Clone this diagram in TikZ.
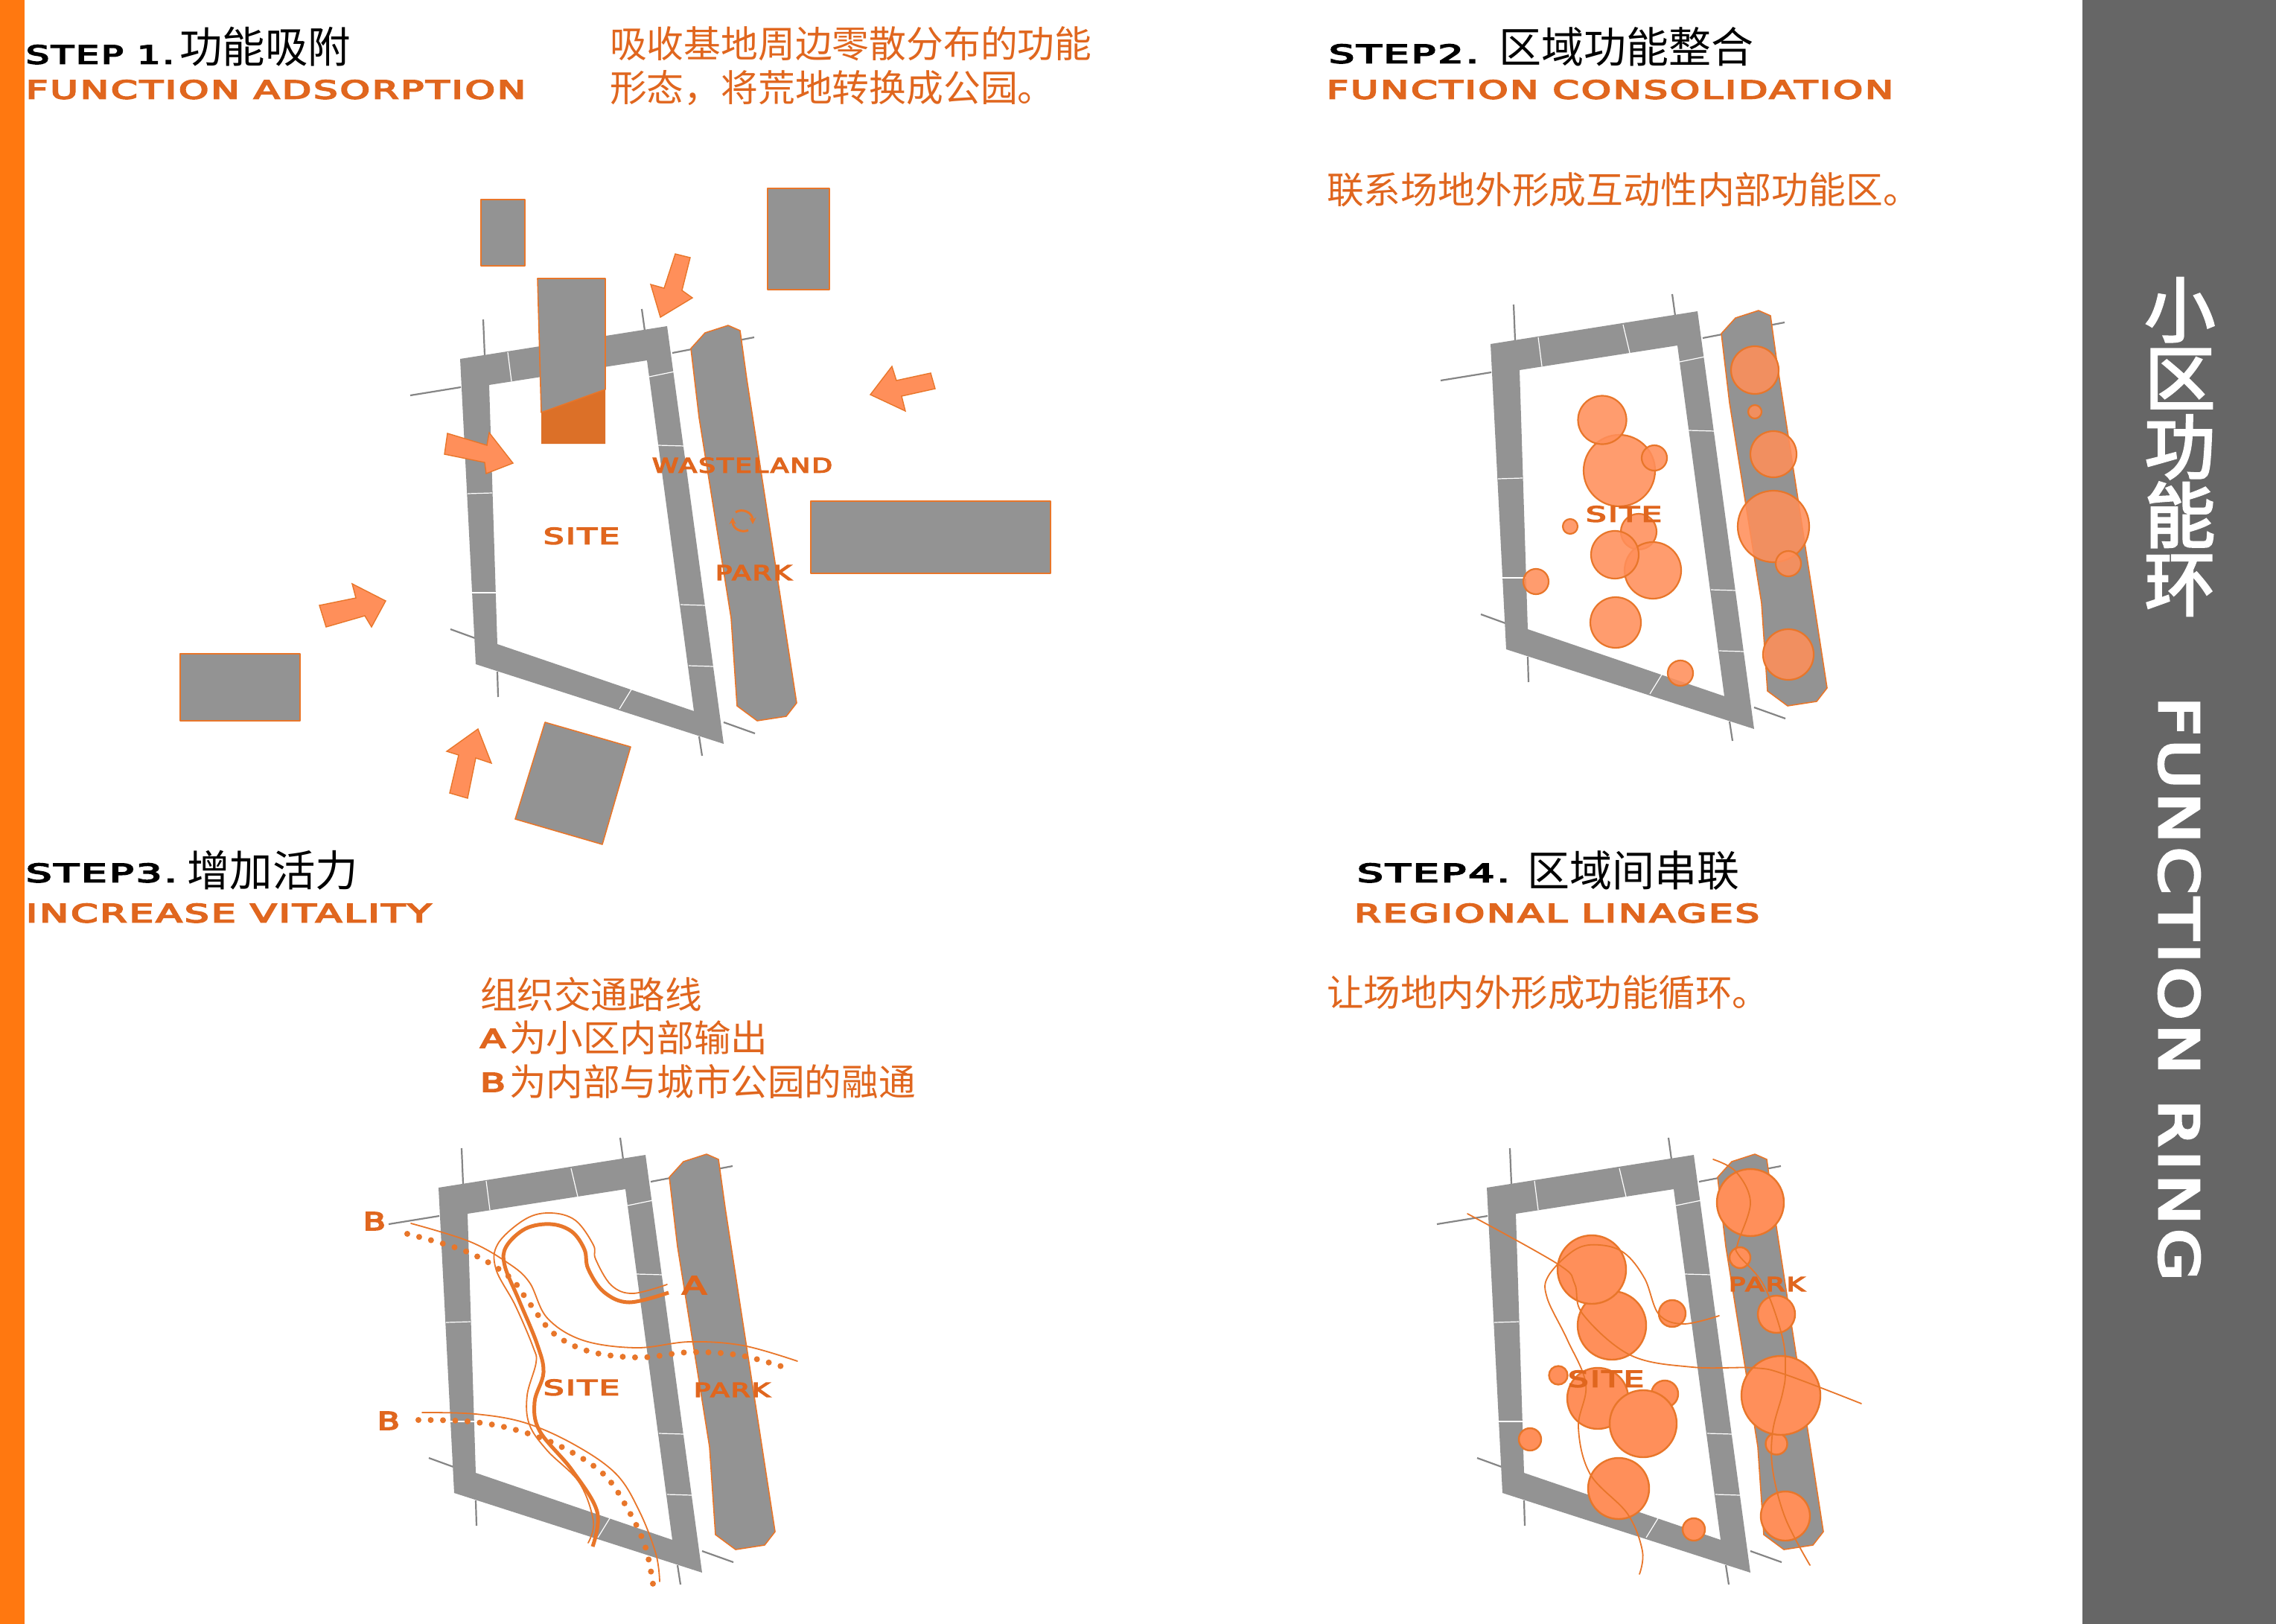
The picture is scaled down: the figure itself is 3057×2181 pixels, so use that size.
\documentclass[tikz,border=0pt]{standalone}
\usepackage{fontspec}
\usepackage{graphicx}
\usetikzlibrary{arrows.meta}
\newfontfamily\cjk{Noto Sans CJK SC}
\newfontfamily\cjkheavy[FakeBold=3]{Noto Sans CJK SC}
\newfontfamily\widefont[LetterSpace=6,FakeBold=5]{DejaVu Sans}
\definecolor{txtor}{HTML}{E0661E}
\definecolor{strokeor}{HTML}{E8762A}
\definecolor{fillor}{HTML}{FF8F5A}
\definecolor{softor}{HTML}{FF8F5A}
\definecolor{blockgray}{HTML}{939393}
\definecolor{axisgray}{HTML}{858585}
\definecolor{panelgray}{HTML}{666666}
\definecolor{barorange}{HTML}{FF7810}
\newcommand{\wt}[3]{\resizebox{#1pt}{#2pt}{\widefont #3}}
\newcommand{\cj}[2]{{\cjk\fontsize{#1}{#1}\selectfont #2}}
\newcommand{\siteplan}{%
  \draw[axisline] (620,1542)--(622,1590);
  \draw[axisline] (833,1528)--(837,1557);
  \draw[axisline] (522,1644)--(590,1633);
  \draw[axisline] (874,1587)--(984,1566);
  \draw[axisline] (576,1958)--(609,1970);
  \draw[axisline] (639,2015)--(640,2049);
  \draw[axisline] (943,2083)--(985,2098);
  \draw[axisline] (910,2102)--(914,2128);
  \fill[blockgray,even odd rule] (589,1595)--(867,1551)--(943,2112)--(610,2005)--cycle
     (628,1630)--(840,1597)--(903,2068)--(639,1978)--cycle;
  \draw[tickline] (653,1586)--(658,1625);
  \draw[tickline] (767,1569)--(776,1607);
  \draw[tickline] (843,1619)--(877,1612);
  \draw[tickline] (855,1711)--(891,1712);
  \draw[tickline] (885,1925)--(919,1926);
  \draw[tickline] (896,2007)--(929,2008);
  \draw[tickline] (819,2039)--(803,2065);
  \draw[tickline] (599,1776)--(632,1775);
  \draw[tickline] (605,1909)--(638,1909);
  \draw[block] (899,1581)--(918,1560)--(949,1550)--(965,1557)--(974,1622)--(1041,2057)--(1027,2075)--(988,2081)--(961,2061)--(953,1943)--(942,1874)--(910,1674)--cycle;
}
\tikzset{
  axisline/.style={draw=axisgray,line width=2.2pt},
  tickline/.style={draw=white,line width=1.2pt},
  block/.style={fill=blockgray,draw=strokeor,line width=1.6pt,line join=round},
  inarrow/.style={fill=fillor,draw=strokeor,line width=1.4pt,line join=miter},
  softdisc/.style={fill=softor,draw=strokeor,line width=2.2pt,fill opacity=.88},
  disc/.style={fill=fillor,draw=strokeor,line width=2.4pt},
  route/.style={draw=strokeor,line width=1.8pt,line cap=round},
  thickroute/.style={draw=strokeor,line width=5pt,line cap=butt},
  dotroute/.style={draw=strokeor,line width=8pt,line cap=round,dash pattern=on 0pt off 16.5pt},
  recycle/.style={draw=strokeor,line width=3pt,-{Stealth[length=9pt,width=9pt]}},
  lab/.style={inner sep=0pt,outer sep=0pt,anchor=south west,text=txtor},
  ttl/.style={inner sep=0pt,outer sep=0pt,anchor=base west},
  body/.style={inner sep=0pt,outer sep=0pt,anchor=base west,text=txtor},
}
\begin{document}
\begin{tikzpicture}[x=1pt,y=-1pt]
\useasboundingbox (0,0) rectangle (3057,2181);
\fill[white] (0,0) rectangle (3057,2181);
\fill[barorange] (0,0) rectangle (33,2181);
\fill[panelgray] (2797,0) rectangle (3057,2181);

% ---------- step 1
\begin{scope}[shift={(29,-1113)}]\siteplan\end{scope}
\draw[block] (646,268) rectangle (705,357);
\draw[block] (1031,253) rectangle (1114,389);
\draw[block] (1089,673) rectangle (1411,770);
\draw[block] (242,878) rectangle (403,968);
\draw[block] (732,970)--(847,1003)--(809,1134)--(692,1100)--cycle;
\fill[strokeor!95!black] (727,554)--(813,523)--(813,596)--(727,596)--cycle;
\draw[block] (722,374)--(813,374)--(813,523)--(727,554)--cycle;
\draw[inarrow] (907,341)--(927,346)--(916,390)--(930,400)--(887,426)--(874,382)--(892,387)--cycle;
\draw[inarrow] (1250,501)--(1256,522)--(1211,532)--(1216,552)--(1169,530)--(1198,492)--(1204,511)--cycle;
\draw[inarrow] (601,582)--(597,610)--(651,621)--(653,636)--(689,622)--(657,581)--(654,598)--cycle;
\draw[inarrow] (429,813)--(438,842)--(490,827)--(499,842)--(518,807)--(473,784)--(478,803)--cycle;
\draw[inarrow] (604,1065)--(628,1072)--(639,1018)--(660,1025)--(642,979)--(600,1009)--(616,1014)--cycle;
\draw[recycle] (988,688) .. controls (997,682) and (1011,688) .. (1011,704);
\draw[recycle] (1005,712) .. controls (997,716) and (984,711) .. (984,695);
\node[lab] (s1site) at (730,731) {\wt{102}{22}{SITE}};
\node[lab] (s1waste) at (876,635) {\wt{242}{20}{WASTELAND}};
\node[lab] (s1park) at (961,779) {\wt{102}{20}{PARK}};
\node[lab,text=black] (s1step) at (35,86) {\wt{199}{25}{STEP 1.}};
\node[ttl] (s1cn) at (241,85) {\cj{57.5}{功能吸附}};
\node[lab] (s1en) at (35,133) {\wt{671}{25}{FUNCTION ADSORPTION}};
\node[body] (s1b1) at (819,78) {\cj{49.8}{吸收基地周边零散分布的功能}};
\node[body] (s1b2) at (819,136) {\cj{49.8}{形态，将荒地转换成公园。}};

% ---------- step 2
\begin{scope}[shift={(1413,-1133)}]\siteplan\end{scope}
\draw[softdisc] (2175,632) circle (48);
\draw[softdisc] (2152,564) circle (32.5);
\draw[softdisc] (2222,615) circle (17);
\draw[softdisc] (2109,707) circle (10);
\draw[softdisc] (2201,714) circle (24);
\draw[softdisc] (2220,766) circle (38);
\draw[softdisc] (2169,745) circle (32);
\draw[softdisc] (2063,781) circle (17);
\draw[softdisc] (2170,836) circle (34);
\draw[softdisc] (2257,904) circle (17);
\draw[softdisc] (2357,497) circle (32);
\draw[softdisc] (2357,553) circle (9);
\draw[softdisc] (2382,610) circle (31);
\draw[softdisc] (2382,707) circle (48);
\draw[softdisc] (2402,757) circle (17);
\draw[softdisc] (2402,879) circle (34);
\node[lab] (s2site) at (2130,701) {\wt{102}{21}{SITE}};
\node[lab,text=black] (s2step) at (1785,85) {\wt{201}{25}{STEP2.}};
\node[ttl] (s2cn) at (2013,85) {\cj{57}{区域功能整合}};
\node[lab] (s2en) at (1782,133) {\wt{761}{25}{FUNCTION CONSOLIDATION}};
\node[body] (s2b1) at (1782,273) {\cj{49.8}{联系场地外形成互动性内部功能区。}};

% ---------- step 3
\begin{scope}[shift={(0,0)}]\siteplan\end{scope}
\draw[route] plot[smooth,tension=.6] coordinates {(552,1643) (630,1667) (682,1696) (711,1722) (735,1770) (783,1800) (855,1810) (926,1802) (998,1807) (1071,1828)};
\draw[dotroute] plot[smooth,tension=.6] coordinates {(547,1657) (627,1681) (683,1714) (711,1750) (744,1791) (792,1815) (859,1823) (926,1816) (993,1820) (1056,1837)};
\draw[route] plot[smooth,tension=.6] coordinates {(567,1897) (639,1899) (706,1911) (773,1941) (828,1980) (859,2030) (881,2087) (886,2124)};
\draw[dotroute] plot[smooth,tension=.6] coordinates {(562,1907) (630,1909) (692,1920) (754,1943) (811,1980) (845,2030) (867,2078) (877,2127)};
\draw[thickroute] plot[smooth,tension=.6] coordinates {(898,1736) (845,1749) (811,1735) (790,1704) (785,1678) (768,1654) (740,1644) (706,1650) (680,1674) (678,1700) (697,1746) (721,1804) (730,1843) (718,1883) (725,1922) (768,1974) (802,2030) (796,2077)};
\draw[route] plot[smooth,tension=.6] coordinates {(896,1725) (850,1737) (821,1726) (800,1691) (797,1672) (773,1639) (740,1629) (706,1637) (669,1670) (666,1704) (692,1753) (716,1809) (720,1830) (708,1874) (711,1913) (735,1948) (778,1991) (797,2043) (790,2072)};
\node[lab] (s3site) at (730,1874) {\wt{102}{21}{SITE}};
\node[lab] (s3park) at (932,1876) {\wt{102}{19}{PARK}};
\node[lab] (s3a) at (916,1738) {\wt{33}{24}{A}};
\node[lab] (s3b1) at (488,1652) {\wt{30}{24}{B}};
\node[lab] (s3b2) at (507,1920) {\wt{30}{24}{B}};
\node[lab,text=black] (s3step) at (35,1185) {\wt{203}{25}{STEP3.}};
\node[ttl] (s3cn) at (251,1190) {\cj{57.5}{增加活力}};
\node[lab] (s3en) at (35,1239) {\wt{544}{25}{INCREASE VITALITY}};
\node[body] (s3l1) at (645,1354) {\cj{49.6}{组织交通路线}};
\node[lab] (s3l2a) at (645,1407) {\wt{34}{25}{A}};
\node[body] (s3l2c) at (684,1412) {\cj{49.6}{为小区内部输出}};
\node[lab] (s3l3a) at (645,1466) {\wt{34}{25}{B}};
\node[body] (s3l3c) at (684,1471) {\cj{49.6}{为内部与城市公园的融通}};

% ---------- step 4
\begin{scope}[shift={(1408,0)}]\siteplan\end{scope}
\draw[disc] (2165,1780) circle (46);
\draw[disc] (2138,1705) circle (46);
\draw[disc] (2246,1764) circle (18);
\draw[disc] (2093,1847) circle (12.5);
\draw[disc] (2146,1878) circle (41);
\draw[disc] (2236,1872) circle (18);
\draw[disc] (2207,1912) circle (45);
\draw[disc] (2055,1933) circle (15);
\draw[disc] (2174,1999) circle (41);
\draw[disc] (2275,2054) circle (15);
\draw[disc] (2351,1615) circle (45);
\draw[disc] (2337,1689) circle (14);
\draw[disc] (2386,1765) circle (25);
\draw[disc] (2386,1939) circle (14.5);
\draw[disc] (2392,1874) circle (53);
\draw[disc] (2398,2036) circle (33);
\draw[route] plot[smooth,tension=.6] coordinates {(1971,1630) (2093,1698) (2115,1724) (2126,1765) (2190,1820) (2273,1836) (2356,1837) (2398,1846) (2500,1885)};
\draw[route] plot[smooth,tension=.6] coordinates {(2309,1767) (2261,1778) (2228,1765) (2209,1717) (2182,1683) (2149,1672) (2116,1678) (2080,1713) (2078,1743) (2105,1799) (2130,1859) (2120,1917) (2136,1980) (2186,2033) (2206,2083) (2202,2114)};
\draw[route] plot[smooth,tension=.6] coordinates {(2301,1557) (2332,1574) (2351,1615) (2334,1670) (2335,1685) (2369,1726) (2394,1796) (2398,1843) (2394,1872) (2381,1922) (2381,1974) (2398,2039) (2431,2102)};
\node[lab] (s4site) at (2106,1863) {\wt{102}{22}{SITE}};
\node[lab] (s4park) at (2322,1734) {\wt{102}{19}{PARK}};
\node[lab,text=black] (s4step) at (1823,1185) {\wt{205}{25}{STEP4.}};
\node[ttl] (s4cn) at (2051,1190) {\cj{57}{区域间串联}};
\node[lab] (s4en) at (1819,1239) {\wt{544}{25}{REGIONAL LINAGES}};
\node[body] (s4b1) at (1782,1351) {\cj{49.5}{让场地内外形成功能循环。}};

% ---------- side panel
\node[inner sep=0pt,align=center,text=white,font=\cjkheavy\fontsize{95}{92}\selectfont] (sidecn) at (2928,600) {小\\区\\功\\能\\环};
\node[inner sep=0pt,text=white,rotate=-90] (sideen) at (2927,1328) {\wt{784}{54}{FUNCTION RING}};
\end{tikzpicture}
\end{document}
